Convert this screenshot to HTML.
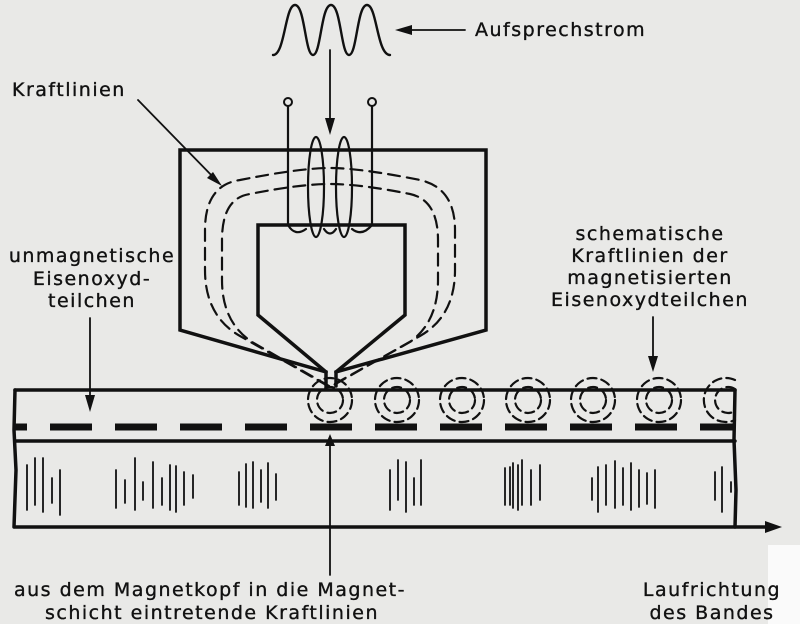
<!DOCTYPE html>
<html><head><meta charset="utf-8"><style>
html,body{margin:0;padding:0;background:#e9e9e7;}
svg{display:block;}
text{font-family:"DejaVu Sans","Liberation Sans",sans-serif;font-size:19px;fill:#111;letter-spacing:1.5px;stroke:#111;stroke-width:0.35;}
</style></head><body>
<svg width="800" height="624" viewBox="0 0 800 624" xmlns="http://www.w3.org/2000/svg">
<rect x="0" y="0" width="800" height="624" fill="#e9e9e7"/>
<rect x="768" y="545" width="32" height="79" fill="#fafafa"/>
<g stroke="#111" fill="none" stroke-linecap="round">
<path d="M273,55 C285,55 285,5 295,5 C305,5 305,55 313,55 C321,55 321,5 331,5 C341,5 341,55 349,55 C357,55 357,5 367,5 C377,5 377,55 390,55" stroke-width="2.4"/>
<line x1="330" y1="50" x2="330" y2="125" stroke-width="1.8"/>
<line x1="465" y1="30" x2="410" y2="30" stroke-width="1.8"/>
<path d="M326,386 L326,372 L180,330 L180,150 L486,150 L486,330 L336,372 L336,386" stroke-width="3.5" stroke-linejoin="miter"/>
<path d="M326,372 L258,315 L258,225 L405,225 L405,315 L336,372" stroke-width="3.5"/>
<line x1="288" y1="106" x2="288" y2="225" stroke-width="2.2"/>
<line x1="372" y1="106" x2="372" y2="225" stroke-width="2.2"/>
<circle cx="288" cy="102" r="4" stroke-width="2"/>
<circle cx="372" cy="102" r="4" stroke-width="2"/>
<ellipse cx="316" cy="187" rx="8" ry="50" stroke-width="2.2"/>
<ellipse cx="344" cy="187" rx="8" ry="50" stroke-width="2.2"/>
<path d="M288,225 Q295,237 306,229 M324,229 Q330,238 336,229 M352,229 Q362,237 372,225" stroke-width="2.2"/>
<g stroke-dasharray="12,7" stroke-width="2.2">
<path d="M328,386 L240,336 Q205,316 205,270 L205,230 Q205,185 240,180 Q300,168 330,168 Q360,168 420,180 Q455,188 455,230 L455,270 Q455,316 420,336 L332,386"/>
<path d="M329,386 L252,342 Q222,322 222,280 L222,240 Q222,198 250,194 Q300,184 330,184 Q360,184 410,194 Q438,200 438,240 L438,280 Q438,322 410,342 L331,386"/>
</g>
<line x1="138" y1="100" x2="218" y2="182" stroke-width="1.8"/>
<line x1="15" y1="390" x2="735" y2="390" stroke-width="3.5"/>
<line x1="15" y1="441" x2="735" y2="441" stroke-width="3.5"/>
<line x1="15" y1="527" x2="765" y2="527" stroke-width="3.5"/>
<path d="M15,390 L14,430 L16,470 L14,527" stroke-width="3.5"/>
<path d="M735,390 L734,440 L736,490 L735,527" stroke-width="3.5"/>
<line x1="15" y1="427" x2="735" y2="427" stroke-width="7" stroke-dasharray="42,23" stroke-dashoffset="30" stroke-linecap="butt"/>
<g stroke-dasharray="9,5" stroke-width="2.2">
<circle cx="330" cy="400" r="22"/><circle cx="330" cy="400" r="13"/>
<circle cx="397" cy="400" r="22"/><circle cx="397" cy="400" r="13"/>
<circle cx="462" cy="400" r="22"/><circle cx="462" cy="400" r="13"/>
<circle cx="528" cy="400" r="22"/><circle cx="528" cy="400" r="13"/>
<circle cx="593" cy="400" r="22"/><circle cx="593" cy="400" r="13"/>
<circle cx="659" cy="400" r="22"/><circle cx="659" cy="400" r="13"/>
<path d="M735,380 A22,22 0 1 0 735,420"/><path d="M735,389 A13,13 0 1 0 735,411"/>
</g>
<line x1="90" y1="318" x2="90" y2="405" stroke-width="1.8"/>
<line x1="653" y1="317" x2="653" y2="362" stroke-width="1.8"/>
<line x1="330" y1="445" x2="330" y2="575" stroke-width="1.8"/>
<g stroke-width="1.8">
<path d="M27,465V510M35,458V505M43,458V512M52,478V503M60,470V515"/>
<path d="M116,470V508M125,480V503M135,458V510M143,482V500M153,462V508M162,478V505M170,465V510M176,466V512M184,472V505M193,475V498"/>
<path d="M239,472V505M246,464V507M253,462V508M261,470V502M268,463V508M276,474V500"/>
<path d="M390,470V510M398,460V500M406,462V512M414,478V505M421,460V505"/>
<path d="M505,468V505M510,467V505M513,463V508M518,465V510M522,460V505M531,470V505M540,465V500"/>
<path d="M592,478V500M598,467V512M606,465V505M615,461V508M623,468V505M631,463V510M639,470V507M647,473V504M655,470V508"/>
<path d="M715,472V500M722,467V512M731,482V492"/>
</g>
</g>
<g fill="#111">
<polygon points="330,135 325,118 335,118"/>
<polygon points="395,30 412,25 412,35"/>
<polygon points="222,186 207,178 213,172"/>
<polygon points="90,412 85,395 95,395"/>
<polygon points="653,372 648,356 658,356"/>
<polygon points="330,434 325,446 335,446"/>
<polygon points="782,527 765,521 765,533"/>
</g>
<text x="475" y="36">Aufsprechstrom</text>
<text x="12" y="96">Kraftlinien</text>
<g text-anchor="middle">
<text x="92" y="262">unmagnetische</text>
<text x="92" y="285">Eisenoxyd-</text>
<text x="92" y="307">teilchen</text>
<text x="650" y="240">schematische</text>
<text x="650" y="262">Kraftlinien der</text>
<text x="650" y="284">magnetisierten</text>
<text x="650" y="306">Eisenoxydteilchen</text>
<text x="210" y="596">aus dem Magnetkopf in die Magnet-</text>
<text x="212" y="619">schicht eintretende Kraftlinien</text>
<text x="712" y="596">Laufrichtung</text>
<text x="712" y="619">des Bandes</text>
</g>
</svg>
</body></html>
